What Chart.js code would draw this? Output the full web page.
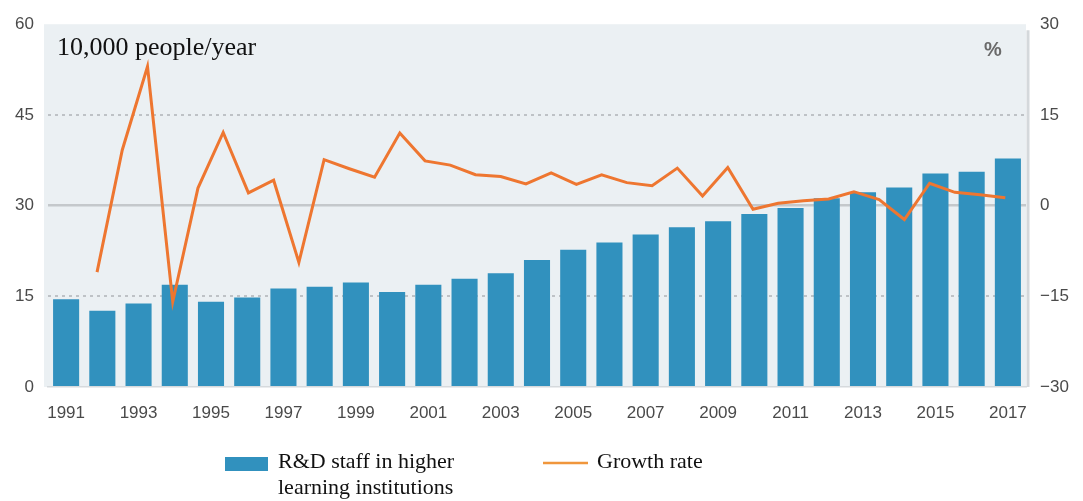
<!DOCTYPE html>
<html>
<head>
<meta charset="utf-8">
<script src="https://cdn.jsdelivr.net/npm/chart.js@4"></script>
<style>
  html, body { margin: 0; padding: 0; background: #ffffff; }
  #wrap { width: 1083px; height: 501px; position: relative; }
</style>
</head>
<body>
<div id="wrap"><canvas id="c" width="1083" height="501"></canvas></div>
<script>
// Fiscal years on the category axis
const years = ['1991','1992','1993','1994','1995','1996','1997','1998','1999','2000',
  '2001','2002','2003','2004','2005','2006','2007','2008','2009','2010',
  '2011','2012','2013','2014','2015','2016','2017'];

// R&D staff in higher learning institutions (10,000 people/year)
const staff = [14.5, 12.6, 13.8, 16.9, 14.1, 14.8, 16.3, 16.6, 17.3, 15.7,
  16.9, 17.9, 18.8, 21.0, 22.7, 23.9, 25.2, 26.4, 27.4, 28.6,
  29.6, 31.2, 32.2, 33.0, 35.3, 35.6, 37.8];

// Growth rate series (%), plotted on its own sequence axis
const growthRate = [-11.0, 9.2, 23.0, -15.9, 2.9, 12.1, 2.1, 4.2, -9.4, 7.6,
  6.1, 4.7, 12.0, 7.4, 6.7, 5.1, 4.8, 3.6, 5.4, 3.5,
  5.1, 3.8, 3.3, 6.2, 1.6, 6.3, -0.6, 0.4, 0.8, 1.1,
  2.3, 1.0, -2.3, 3.7, 2.2, 1.8, 1.3];

// Axis tick values
const leftTicks = [0, 15, 30, 45, 60];
const rightTicks = [-30, -15, 0, 15, 30];

const staffLabel = ['R&D staff in higher', 'learning institutions'];
const growthLabel = ['Growth rate'];
const unitLeft = '10,000 people/year';
const unitRight = '%';

const BAR_COLOR = 'rgb(49,145,190)';
const LINE_COLOR = 'rgb(238,118,48)';
const LEGEND_LINE_COLOR = 'rgb(240,150,60)';
const PLOT_BG = 'rgb(235,240,243)';
const TICK_COLOR = '#4a4a4a';
const SANS = '"Liberation Sans", Arial, sans-serif';
const SERIF = '"Liberation Serif", "Times New Roman", serif';

const decor = {
  id: 'decor',
  beforeDraw(chart) {
    const { ctx, chartArea: a } = chart;
    ctx.save();
    ctx.fillStyle = PLOT_BG;
    ctx.fillRect(a.left - 4, a.top, a.right - a.left + 4, a.bottom - a.top);
    ctx.restore();
  },
  afterDraw(chart) {
    const { ctx, chartArea: a } = chart;
    ctx.save();
    // right edge shade of the plot panel
    ctx.strokeStyle = 'rgb(212,216,219)';
    ctx.lineWidth = 3;
    ctx.beginPath();
    ctx.moveTo(a.right + 2, a.top + 6);
    ctx.lineTo(a.right + 2, a.bottom);
    ctx.stroke();

    // unit captions
    ctx.fillStyle = '#111';
    ctx.font = '26px ' + SERIF;
    ctx.textBaseline = 'alphabetic';
    ctx.textAlign = 'left';
    ctx.fillText(unitLeft, 57, 55);
    ctx.fillStyle = '#6a6a6a';
    ctx.font = 'bold 20px ' + SANS;
    ctx.textAlign = 'center';
    ctx.fillText(unitRight, 993, 56);

    // legend
    const ds = chart.data.datasets;
    const barSet = ds.find(d => d.type === 'bar');
    ctx.textAlign = 'left';
    ctx.fillStyle = barSet.backgroundColor;
    ctx.fillRect(225, 457, 43, 14);
    ctx.fillStyle = '#111';
    ctx.font = '22px ' + SERIF;
    staffLabel.forEach((t, i) => ctx.fillText(t, 278, 468 + i * 26));

    ctx.strokeStyle = LEGEND_LINE_COLOR;
    ctx.lineWidth = 2.5;
    ctx.beginPath();
    ctx.moveTo(543, 463);
    ctx.lineTo(588, 463);
    ctx.stroke();
    growthLabel.forEach((t, i) => ctx.fillText(t, 597, 468 + i * 26));
    ctx.restore();
  }
};

// place the growth-rate sequence so its first point sits on 1992 and its last on 2017
const nPts = growthRate.length;
const slotsSpanned = years.length - 2; // from 1992 to 2017
const perSlot = (nPts - 1) / slotsSpanned;
const seqMin = -1.35 * perSlot;
const seqMax = (nPts - 1) + 0.57 * perSlot;

new Chart(document.getElementById('c'), {
  type: 'bar',
  data: {
    labels: years,
    datasets: [
      {
        type: 'line',
        label: growthLabel.join(' '),
        data: growthRate.map((v, i) => ({ x: i, y: v })),
        xAxisID: 'seq',
        yAxisID: 'yR',
        borderColor: LINE_COLOR,
        borderWidth: 3,
        pointRadius: 0,
        tension: 0,
        order: 0
      },
      {
        type: 'bar',
        label: staffLabel.join(' '),
        data: staff,
        xAxisID: 'x',
        yAxisID: 'y',
        backgroundColor: BAR_COLOR,
        barPercentage: 0.72,
        categoryPercentage: 1.0,
        grouped: false,
        order: 1
      }
    ]
  },
  options: {
    responsive: false,
    animation: false,
    layout: { padding: { top: 20, left: 0, right: 0, bottom: 0 } },
    plugins: { legend: { display: false }, tooltip: { enabled: false } },
    scales: {
      x: {
        axis: 'x',
        position: 'bottom',
        offset: true,
        grid: { display: false },
        border: { display: true, color: 'rgb(214,218,221)', width: 1.5 },
        ticks: {
          autoSkip: false,
          maxRotation: 0,
          padding: 8,
          color: TICK_COLOR,
          font: { family: SANS, size: 17 },
          callback: (v, i) => (i % 2 === 0 ? years[i] : '')
        },
        afterFit: s => { s.height = 114; }
      },
      seq: {
        type: 'linear',
        axis: 'x',
        position: 'bottom',
        display: false,
        offset: false,
        bounds: 'data',
        grid: { offset: false },
        min: seqMin,
        max: seqMax
      },
      y: {
        axis: 'y',
        position: 'left',
        min: leftTicks[0],
        max: leftTicks[leftTicks.length - 1],
        afterBuildTicks: s => { s.ticks = leftTicks.map(v => ({ value: v })); },
        border: {
          display: false,
          dash: c => (c.tick && c.tick.value === 30 ? [] : [3, 4])
        },
        grid: {
          drawTicks: false,
          color: c => {
            const v = c.tick ? c.tick.value : null;
            if (v === 30) return 'rgb(196,200,203)';
            if (v === 15 || v === 45) return 'rgb(190,194,198)';
            return 'rgba(0,0,0,0)';
          },
          lineWidth: c => (c.tick && c.tick.value === 30 ? 2.5 : 2)
        },
        ticks: {
          padding: 14,
          color: TICK_COLOR,
          font: { family: SANS, size: 17 }
        },
        afterFit: s => { s.width = 48; }
      },
      yR: {
        axis: 'y',
        position: 'right',
        min: rightTicks[0],
        max: rightTicks[rightTicks.length - 1],
        afterBuildTicks: s => { s.ticks = rightTicks.map(v => ({ value: v })); },
        border: { display: false },
        grid: { drawOnChartArea: false, drawTicks: false },
        ticks: {
          padding: 14,
          color: TICK_COLOR,
          font: { family: SANS, size: 17 },
          callback: v => (v < 0 ? '\u2212' + Math.abs(v) : String(v))
        },
        afterFit: s => { s.width = 57; }
      }
    }
  },
  plugins: [decor]
});
</script>
</body>
</html>
